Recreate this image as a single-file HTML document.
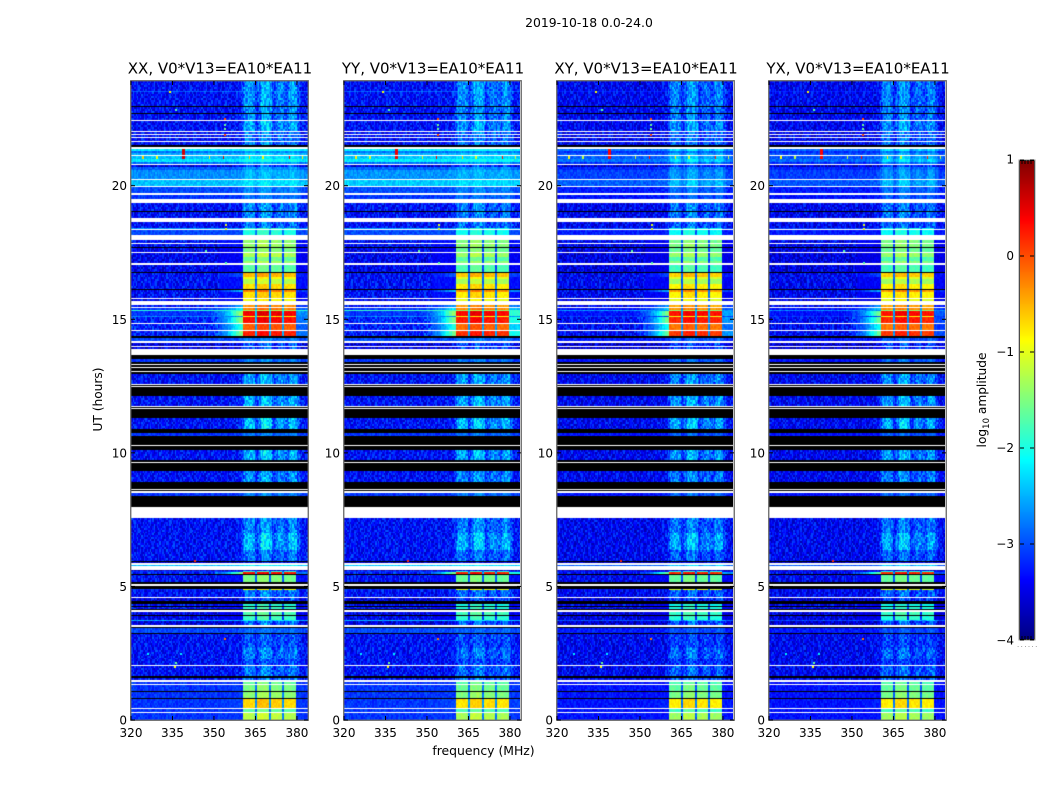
<!DOCTYPE html>
<html>
<head>
<meta charset="utf-8">
<title>2019-10-18 0.0-24.0</title>
<style>
html,body{margin:0;padding:0;background:#fff;}
#figure{position:relative;width:1050px;height:800px;overflow:hidden;background:#fff;}
canvas{position:absolute;display:block;}
svg{position:absolute;left:0;top:0;}
text{font-family:"DejaVu Sans","Liberation Sans",sans-serif;fill:#000;}
</style>
</head>
<body>
<div id="figure">
<canvas id="hm0" style="left:131px;top:81px" width="177" height="639"></canvas>
<canvas id="hm1" style="left:344px;top:81px" width="176" height="639"></canvas>
<canvas id="hm2" style="left:557px;top:81px" width="176" height="639"></canvas>
<canvas id="hm3" style="left:769px;top:81px" width="176" height="639"></canvas>
<canvas id="cbar" style="left:1019px;top:160px" width="16" height="480"></canvas>
<svg id="overlay" width="1050" height="800">
<text x="589" y="27" text-anchor="middle" font-size="12.4">2019-10-18 0.0-24.0</text>
<text x="483.5" y="755" text-anchor="middle" font-size="12.4">frequency (MHz)</text>
<text transform="translate(102,399.5) rotate(-90)" text-anchor="middle" font-size="12.2">UT (hours)</text>
<text transform="translate(986,400) rotate(-90)" text-anchor="middle" font-size="12.2">log<tspan font-size="8.5" dy="3">10</tspan><tspan dy="-3"> amplitude</tspan></text>
<text x="1017" y="647" font-size="7" letter-spacing="1.4" style="fill:#777">......</text>
</svg>
</div>
<script>
/* Axis labels and ticks */
const panelTitles = ["XX, V0*V13=EA10*EA11","YY, V0*V13=EA10*EA11","XY, V0*V13=EA10*EA11","YX, V0*V13=EA10*EA11"];
const panelLeft = [131,344,557,769];
const freqTicks = [320,335,350,365,380];
const hourTicks = [0,5,10,15,20];
const colorTicks = [1,0,-1,-2,-3,-4];

/* Per-polarisation adjustments */
const panelBgGain = [1,1.05,0.55,0.5];
const panelBgOffset = [-0.12,-0.12,-0.2,-0.2];
const panelBandOffset = [0.12,0.05,0,0];
const panelRightWing = [0.12,0.35,0.2,0.1];

/* Time rows: upper edge (hours), background level and band level (log10 amplitude) */
const W = null;   /* flagged, drawn white */
const K = -9;     /* below range, drawn black */
const rowEnd = [
0.27,0.31,0.41,0.45,0.77,0.82,1.05,1.09,
1.32,1.36,1.41,1.51,1.58,1.63,2.04,2.07,
2.30,2.70,3.24,3.27,3.45,3.49,3.54,3.69,3.73,3.90,
3.93,4.06,4.10,4.17,4.25,4.28,4.36,4.40,
4.44,4.47,4.57,4.62,4.87,4.92,5.00,5.10,
5.18,5.45,5.48,5.53,5.60,5.63,5.76,5.82,
5.87,5.93,5.97,6.35,7.00,7.55,7.97,8.37,8.49,8.56,
8.60,8.63,8.91,9.01,9.04,9.31,9.62,9.66,
9.72,10.12,10.25,10.28,10.62,10.73,10.89,11.29,
11.65,11.69,11.73,11.77,12.12,12.47,12.49,12.53,
12.57,12.96,13.03,13.07,13.17,13.20,13.28,13.32,
13.41,13.51,13.66,13.87,13.97,14.01,14.13,14.17,
14.31,14.37,14.56,14.60,14.82,14.87,15.10,15.14,15.30,15.34,15.42,
15.46,15.52,15.69,15.76,15.80,16.02,16.11,16.15,16.31,
16.50,16.60,16.72,16.78,17.05,17.09,17.20,17.35,17.48,17.52,17.67,
17.70,17.82,17.87,17.98,18.15,18.34,18.38,18.42,
18.64,18.80,19.02,19.05,19.37,19.52,19.65,19.71,
19.95,19.99,20.23,20.27,20.57,20.71,20.76,20.80,
20.89,21.00,21.12,21.16,21.23,21.31,21.38,21.45,
21.52,21.63,21.67,21.77,21.81,21.90,21.94,22.02,
22.06,22.43,22.47,22.70,22.74,22.95,22.99,23.50,
23.55,23.92];
const rowBg = [
-3,W,-3,W,-3,K,-3,K,
-3,W,-3,W,-3.2,K,-3.2,W,
-3.2,-3.2,-3.2,K,-2.9,K,W,-3.4,-2.4,-3.3,
K,-3.3,W,K,-3.2,K,-3.2,K,
-3.2,K,-3.4,W,-3.2,-3,K,W,
K,-3.2,K,-3.1,-3,-3.5,W,-2.3,
W,-3.5,K,-3.2,-3.2,-3.2,W,K,-3,W,
K,W,K,-3.2,W,-3.2,K,W,
K,-3.2,K,W,K,-3,K,-3.2,
K,W,K,W,-3.2,K,W,K,
W,-3.2,K,W,K,W,K,W,
K,-3,K,W,-3.4,W,-3.4,W,
-2.9,K,-3.1,W,-3.1,W,-3.1,-2.6,-3,-1.8,-3,
W,-3.2,W,-3.3,W,-3.2,-3.2,K,-3.2,
-3.2,-3.2,-3.2,K,-3.3,W,-3.3,-3.3,-3.3,W,-3.3,
K,-3.2,W,-3.2,W,-2.9,W,-2.5,
-3.2,W,-3.2,K,-3.2,W,-3,W,
-2.9,W,-2.3,W,-2.55,-2.8,-3.4,W,
-2.7,-2.1,-2.3,W,-2.4,-2.7,-2.1,W,
K,-3.2,W,-3.2,W,-3.2,W,-3.2,
W,-3.2,W,-3.2,K,-3.2,K,-3.2,
-2.8,-3.2];
const rowBand = [
-1.3,W,-1.75,W,-0.75,K,-1.5,K,
-1.6,W,-1.7,W,-2.75,K,-2.75,W,
-3,-2.7,-2.95,K,-2.9,K,W,-2.75,-2.2,-1.9,
K,-1.8,W,K,-1.95,K,-2,K,
-2,K,-2.9,W,-2.75,-1,K,W,
K,-1.6,K,0.2,-2,-3.4,W,-2.2,
W,-3.4,K,-2.75,-2.3,-2.65,W,K,-2.75,W,
K,W,K,-2.55,W,-2.6,K,W,
K,-2.4,K,W,K,-2.8,K,-2.3,
K,W,K,W,-2.4,K,W,K,
W,-2.5,K,W,K,W,K,W,
K,-2.75,K,W,-2.9,W,-2.9,W,
-2.8,K,0.15,W,-0.15,W,0.25,-0.9,0.35,-1.4,-0.3,
W,-0.4,W,-1,W,-0.8,-0.35,K,-0.8,
-1.3,-1,-0.6,K,-1.75,W,-1.45,-1.7,-1.35,W,-1.6,
K,-1.45,W,-1.5,W,-2.05,W,-2,
-2.75,W,-2.65,K,-2.65,W,-2.8,W,
-2.7,W,-2.3,W,-2.5,-2.6,-3,W,
-2.6,-2.1,-2.3,W,-2.4,-2.7,-2.1,W,
K,-2.7,W,-2.7,W,-2.7,W,-2.7,
W,-2.45,W,-2.6,K,-2.6,K,-2.55,
-2.55,-2.55];

/* Spectral shape: the four bright sub-bands (MHz) */
const blockStart = [360.5,365.6,370.5,375.5];
const blockEnd = [364.9,369.9,374.7,379.8];
const blockOffset = [-0.05,0.08,0,-0.06];
const gapMix = 0.2;
/* Relative strength of quiet-time band structure, per MHz from 320 */
const quietProfile = [
0,0,0,0,0,0,0,0,0,0,
0,0,0,0,0,0,0,0,0,0,
0,0,0,0,0,0,0,0,0,0,
0,0,0,0,0,0,0.02,0.03,0.05,0.1,
0.35,0.75,0.85,0.8,0.7,0.25,0.55,1,1,0.95,
0.85,0.3,0.5,0.65,0.7,0.55,0.45,0.8,0.85,0.8,
0.4,0.08,0.05,0.03];
/* Leakage left of the band during bright rows, per MHz from 349 */
const wingProfile = [0.03,0.06,0.08,0.1,0.14,0.18,0.24,0.3,0.36,0.42,0.48,0.52];

/* Narrow-band interference around 21 h */
const rfiFreq = [324.4,329.5,339,348.4,353.5,362.8,367.8,377.3,382];
const rfiPeak = [-0.9,-1.2,0.35,-1.2,0.3,-0.8,-1.2,0.2,-1.2];
const rfiTop = [21.08,21.08,21.45,21.08,21.08,21.08,21.08,21.08,21.08];
const rfiHalfWidth = [0.3,0.3,0.6,0.3,0.3,0.3,0.3,0.3,0.3];
const rfiBottom = 20.98;

/* Isolated outlier samples */
const outlierFreq = [342.6,353.8,335.6,325.9,337.8,335.8,353.8,353.8,353.8,353.8,353.9,353.9,346.6,353.9,335.8,333.9];
const outlierHour = [6.0,3.07,2.03,2.5,2.5,2.18,22.53,21.93,22.17,22.32,18.57,18.42,17.6,17.15,22.87,23.55];
const outlierValue = [0.2,-0.2,-0.9,-2.2,-2.2,-1.6,0,0,-1.6,-1.6,-1,-1,-1.7,-1.7,-1.7,-0.9];

/* Sampled receiver-noise tile, digits 0-9 */
const noiseTile = [
"3172904165283701946250381749260153827",
"6014382957103648291075463812590743168",
"2895017346802197534068129473560281943",
"4730261985347016829354107268945130726",
"1563948207415692380714256903871246095",
"8207316459021873564120938675142093681",
"3941705826193047258361409275816034572",
"0628459137640251983726581043297168405",
"5392071684317925604189732056418392076",
"7146830295580361472095314768203915648",
"2059643718206714839256087413925680137",
"9380152476031598264713602984175036429",
"1467289053748120695347291605834127950"
];
const noiseShift = [0,13,5,22,9,31,17,2,26,11,35,7,19,28,3,24,15];

/* Axis functions */
const freqMin = 320, freqMax = 384, hourMin = 0, hourMax = 23.92;
const plotW = 177, plotH = 639;
function xScale(f){ return (f-freqMin)/(freqMax-freqMin)*plotW; }
function xInvert(x){ return freqMin+x/plotW*(freqMax-freqMin); }
function yScale(h){ return plotH-(h-hourMin)/(hourMax-hourMin)*plotH; }
const logMin = -4, logMax = 1;
function cl(a){ return Math.max(0,Math.min(1,a)); }
function jet(v){
  const n = cl((v-logMin)/(logMax-logMin));
  const r = cl(Math.min(4*n-1.5,-4*n+4.5));
  const g = cl(Math.min(4*n-0.5,-4*n+3.5));
  const b = cl(Math.min(4*n+0.5,-4*n+2.5));
  return "rgb("+Math.round(r*255)+","+Math.round(g*255)+","+Math.round(b*255)+")";
}
function blockIndex(f){
  for(let i=0;i<blockStart.length;i++){ if(f>=blockStart[i]&&f<blockEnd[i]) return i; }
  return -1;
}
function cellValue(p,f,bg,band){
  const floor = -3.2;
  let b = bg>floor ? floor+(bg-floor)*panelBgGain[p] : bg;
  b += panelBgOffset[p];
  const top = band+panelBandOffset[p];
  if(band<=-2.1){
    const q = quietProfile[Math.min(63,Math.floor(f-320))];
    return Math.max(b, b+(top-b)*q);
  }
  const bi = blockIndex(f);
  if(bi>=0) return top+blockOffset[bi];
  if(f>=blockStart[0]&&f<blockEnd[3]) return b+(top-b)*gapMix;
  const strength = cl((band+0.8)/0.8);
  if(f<blockStart[0]&&f>=349){
    return b+(top-b)*wingProfile[Math.floor(f-349)]*strength;
  }
  if(f>=blockEnd[3]) return b+(top-b)*panelRightWing[p]*strength;
  return b;
}
function drawPanel(p){
  const canvas = document.getElementById("hm"+p);
  const ctx = canvas.getContext("2d");
  ctx.fillStyle = "#fff";
  ctx.fillRect(0,0,plotW,plotH);
  for(let r=0;r<rowEnd.length;r++){
    const start = r===0 ? hourMin : rowEnd[r-1];
    const y0 = Math.round(yScale(rowEnd[r]));
    const y1 = Math.max(y0+1,Math.round(yScale(start)));
    if(rowBg[r]===W){ continue; }
    if(rowBg[r]===K){
      ctx.fillStyle = "#000";
      ctx.fillRect(0,y0,plotW,y1-y0);
      continue;
    }
    const smooth = rowBg[r]>-3.05;
    const blockRow = rowBand[r]>-2.1;
    for(let y=y0;y<y1;y+=2){
      const hour = hourMax*(plotH-y-1)/plotH;
      const sub = Math.floor(y/2);
      const t = noiseTile[(sub+p*5)%noiseTile.length];
      const shift = noiseShift[(sub+p*3)%noiseShift.length];
      for(let x=0;x<plotW;x++){
        const f = xInvert(x+0.5);
        let v = cellValue(p,f,rowBg[r],rowBand[r]);
        const d = (Number(t[(Math.floor(x/1.4)+p*11+shift)%t.length])-4.5)/4.5;
        let amp = smooth ? 0.16 : 0.36;
        if(v>=-2.1) amp = 0.09;
        else if(blockRow&&f>=352) amp = 0.12;
        v += d*amp;
        for(let i=0;i<rfiFreq.length;i++){
          if(Math.abs(f-rfiFreq[i])<rfiHalfWidth[i]&&hour>=rfiBottom&&hour<=rfiTop[i]){
            v = rfiPeak[i]+panelBandOffset[p]*2;
          }
        }
        ctx.fillStyle = jet(v);
        ctx.fillRect(x,y,1,Math.min(2,y1-y));
      }
    }
  }
  for(let i=0;i<outlierFreq.length;i++){
    ctx.fillStyle = jet(outlierValue[i]);
    ctx.fillRect(Math.round(xScale(outlierFreq[i])),Math.round(yScale(outlierHour[i])),2,2);
  }
}
for(let p=0;p<4;p++){ drawPanel(p); }

/* Colorbar */
(function(){
  const c = document.getElementById("cbar").getContext("2d");
  for(let y=0;y<480;y++){
    c.fillStyle = jet(logMax-(y+0.5)/480*(logMax-logMin));
    c.fillRect(0,y,16,1);
  }
})();

/* Axes, ticks, labels */
const svg = document.getElementById("overlay");
const NS = "http://www.w3.org/2000/svg";
function line(x1,y1,x2,y2,color,w,name){
  const el = document.createElementNS(NS,"line");
  el.setAttribute("x1",x1); el.setAttribute("y1",y1);
  el.setAttribute("x2",x2); el.setAttribute("y2",y2);
  el.setAttribute("stroke",color); el.setAttribute("stroke-width",w);
  
  
  svg.appendChild(el);
}
function label(x,y,str,anchor,size,name){
  const el = document.createElementNS(NS,"text");
  el.setAttribute("x",x); el.setAttribute("y",y);
  el.setAttribute("text-anchor",anchor); el.setAttribute("font-size",size);
  el.textContent = str;
  
  
  svg.appendChild(el);
}
function frame(x,y,w,h,color,sw,name){
  const el = document.createElementNS(NS,"rect");
  el.setAttribute("x",x); el.setAttribute("y",y);
  el.setAttribute("width",w); el.setAttribute("height",h);
  el.setAttribute("fill","none"); el.setAttribute("stroke",color);
  el.setAttribute("stroke-width",sw);
  
  
  svg.appendChild(el);
}
panelLeft.forEach(function(left,p){
  const top = 81, bottom = 720;
  frame(left-0.25,top-0.25,plotW+0.5,plotH+0.5,"#666",1.3,"panel-frame");
  label(left+89,top-7.5,panelTitles[p],"middle",15,"panel-title");
  freqTicks.forEach(function(f){
    const x = left+xScale(f);
    line(x,bottom,x,bottom-4,"#000",1,"x-tick-bottom");
    line(x,top,x,top+4,"#000",1,"x-tick-top");
    label(x,737,String(f),"middle",12,"x-tick-label");
  });
  hourTicks.forEach(function(h){
    const y = top+yScale(h);
    line(left,y,left+4,y,"#000",1,"y-tick-left");
    line(left+plotW,y,left+plotW-4,y,"#000",1,"y-tick-right");
    label(left-4,y+4.5,String(h),"end",12,"y-tick-label");
  });
});
/* Colorbar frame and ticks */
frame(1019.5,160.5,15,479,"#000",1,"colorbar-inner-frame");
frame(1019,160,16,480,"#999",1,"colorbar-outer-frame");
colorTicks.forEach(function(v){
  const y = 160+(logMax-v)/(logMax-logMin)*480;
  line(1020,y,1024,y,"#000",1,"colorbar-tick-left");
  line(1030,y,1034,y,"#000",1,"colorbar-tick-right");
  label(1014,y+(v===1?3.5:(v===-4?4.5:4)),v<0?"\u2212"+(-v):String(v),"end",12,"colorbar-tick-label");
});
[1022,1025,1028,1031].forEach(function(x){
  line(x,160,x,164,"#000",1,"colorbar-top-tick");
  line(x,640,x,636,"#000",1,"colorbar-bottom-tick");
});
</script>
</body>
</html>
